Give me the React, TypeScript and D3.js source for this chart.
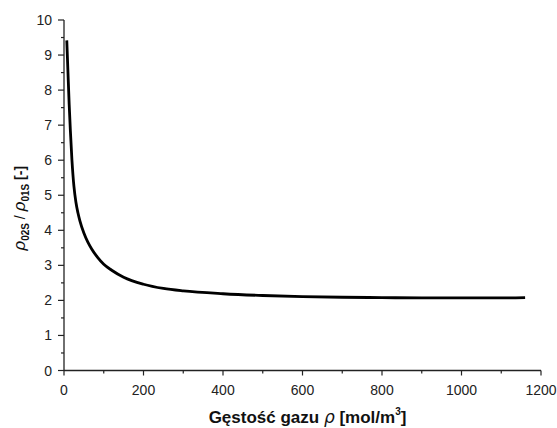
import * as d3 from "d3";

const density = [7, 10, 13, 16, 20, 25, 30, 35, 40, 50, 60, 70, 85, 100, 120, 150, 200, 250, 300, 400, 500, 600, 700, 800, 900, 1000, 1100, 1160];
const ratio = [9.42, 8.5, 7.6, 6.85, 6.0, 5.25, 4.8, 4.5, 4.27, 3.92, 3.66, 3.46, 3.22, 3.03, 2.86, 2.66, 2.46, 2.34, 2.27, 2.19, 2.14, 2.11, 2.09, 2.08, 2.07, 2.07, 2.07, 2.08];

const xTicks = [0, 200, 400, 600, 800, 1000, 1200];
const xMinor = [100, 300, 500, 700, 900, 1100];
const yTicks = [0, 1, 2, 3, 4, 5, 6, 7, 8, 9, 10];
const yMinor = [0.5, 1.5, 2.5, 3.5, 4.5, 5.5, 6.5, 7.5, 8.5, 9.5];

const W = 557;
const H = 428;
const left = 64;
const right = 541;
const top = 20;
const bottom = 370.5;

export default function App() {
  const x = d3.scaleLinear().domain([0, 1200]).range([left, right]);
  const y = d3.scaleLinear().domain([0, 10]).range([bottom, top]);

  const pts = density.map((d, i) => [d, ratio[i]] as [number, number]);
  const line = d3
    .line<[number, number]>()
    .x((d) => x(d[0]))
    .y((d) => y(d[1]))
    .curve(d3.curveMonotoneX);

  const font = "'Liberation Sans', Arial, sans-serif";
  const axisColor = "#222";

  return (
    <svg
      width={W}
      height={H}
      style={{ position: "absolute", left: 0, top: 0, background: "#fff" }}
      fontFamily={font}
    >
      {/* axes lines */}
      <line x1={left} x2={left} y1={top} y2={bottom} stroke={axisColor} strokeWidth={1.3} />
      <line x1={left} x2={right} y1={bottom} y2={bottom} stroke={axisColor} strokeWidth={1.3} />

      {/* y ticks */}
      {yTicks.map((t) => (
        <g key={"y" + t}>
          <line x1={left - 6} x2={left} y1={y(t)} y2={y(t)} stroke={axisColor} strokeWidth={1.2} />
          <text x={left - 12} y={y(t)} dy="0.36em" textAnchor="end" fontSize={14} fill="#222">
            {t}
          </text>
        </g>
      ))}
      {yMinor.map((t) => (
        <line key={"ym" + t} x1={left - 3} x2={left} y1={y(t)} y2={y(t)} stroke={axisColor} strokeWidth={1.2} />
      ))}

      {/* x ticks */}
      {xTicks.map((t) => (
        <g key={"x" + t}>
          <line x1={x(t)} x2={x(t)} y1={bottom} y2={bottom + 5} stroke={axisColor} strokeWidth={1.2} />
          <text x={x(t)} y={bottom + 24} textAnchor="middle" fontSize={14} fill="#222">
            {t}
          </text>
        </g>
      ))}
      {xMinor.map((t) => (
        <line key={"xm" + t} x1={x(t)} x2={x(t)} y1={bottom} y2={bottom + 3} stroke={axisColor} strokeWidth={1.2} />
      ))}

      {/* curve */}
      <path d={line(pts) ?? ""} fill="none" stroke="#000" strokeWidth={2.8} />

      {/* x title */}
      <text x={(left + right) / 2 + 5} y={423} textAnchor="middle" fontSize={17} fontWeight="bold" fill="#111">
        Gęstość gazu <tspan fontStyle="italic" fontWeight="normal" fontFamily="'DejaVu Sans', sans-serif">ρ</tspan> [mol/m
        <tspan dy={-8} fontSize={10}>3</tspan>
        <tspan dy={8}>]</tspan>
      </text>

      {/* y title */}
      <text
        transform={`translate(25, ${(top + bottom) / 2 + 13}) rotate(-90)`}
        textAnchor="middle"
        fontSize={14}
        fill="#111"
      >
        <tspan fontStyle="italic" fontSize={17}>ρ</tspan>
        <tspan dy={4} fontSize={10} fontWeight="bold">02S</tspan>
        <tspan dy={-4}> / </tspan>
        <tspan fontStyle="italic" fontSize={17}>ρ</tspan>
        <tspan dy={4} fontSize={10} fontWeight="bold">01S</tspan>
        <tspan dy={-4} fontWeight="bold"> [-]</tspan>
      </text>
    </svg>
  );
}
